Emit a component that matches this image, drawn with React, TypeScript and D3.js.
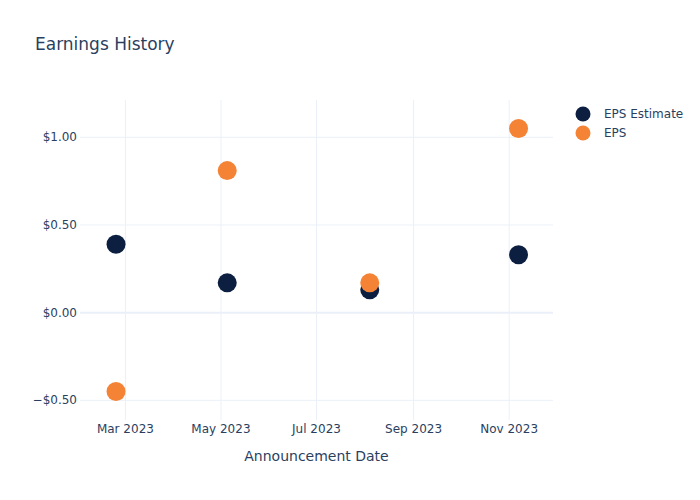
import React from "react";
import * as d3 from "d3";

const dates = ["2023-02-23", "2023-05-05", "2023-08-04", "2023-11-07"];
const epsEstimate = [0.39, 0.17, 0.13, 0.33];
const eps = [-0.45, 0.81, 0.17, 1.05];
const yTicks = [-0.5, 0, 0.5, 1.0];
const xTicks = ["2023-03-01", "2023-05-01", "2023-07-01", "2023-09-01", "2023-11-01"];
const seriesNames = ["EPS Estimate", "EPS"];
const colors = ["#0c1f40", "#f58335"];

const W = 700, H = 500;
const left = 80, right = 553, top = 100, bottom = 420;
const font = "'DejaVu Sans', sans-serif";
const textColor = "#2a3f5f";

export default function App() {
  const parse = d3.utcParse("%Y-%m-%d");
  const x = d3
    .scaleUtc()
    .domain([parse("2023-01-31")!, parse("2023-11-29")!])
    .range([left, right]);
  const y = d3.scaleLinear().domain([-0.612, 1.2127]).range([bottom, top]);
  const fmtX = d3.utcFormat("%b %Y");
  const fmtY = (v: number) => (v < 0 ? "\u2212" : "") + "$" + Math.abs(v).toFixed(2);
  const series = [epsEstimate, eps];

  return (
    <svg width={W} height={H} style={{ display: "block", position: "absolute", left: 0, top: 0, fontFamily: font }}>
      <rect width={W} height={H} fill="#fff" />
      <text x={35} y={50} fontSize={17} fill={textColor}>Earnings History</text>
      {xTicks.map((t) => {
        const xx = x(parse(t)!);
        return (
          <g key={t}>
            <line x1={xx} x2={xx} y1={top} y2={bottom} stroke="#ebf0f8" strokeWidth={1} />
            <text x={xx} y={433} fontSize={12} fill={textColor} textAnchor="middle">{fmtX(parse(t)!)}</text>
          </g>
        );
      })}
      {yTicks.map((t) => {
        const yy = y(t);
        return (
          <g key={t}>
            <line x1={left} x2={right} y1={yy} y2={yy} stroke="#ebf0f8" strokeWidth={t === 0 ? 2 : 1} />
            <text x={77} y={yy + 4} fontSize={12} fill={textColor} textAnchor="end">{fmtY(t)}</text>
          </g>
        );
      })}
      {series.map((s, si) =>
        s.map((v, i) => (
          <circle key={si + "-" + i} cx={x(parse(dates[i])!)} cy={y(v)} r={9.5} fill={colors[si]} />
        ))
      )}
      <text x={(left + right) / 2} y={461} fontSize={14} fill={textColor} textAnchor="middle">Announcement Date</text>
      {seriesNames.map((n, i) => (
        <g key={n}>
          <circle cx={583} cy={114 + i * 19} r={7.5} fill={colors[i]} />
          <text x={604} y={118 + i * 19} fontSize={12} fill={textColor}>{n}</text>
        </g>
      ))}
    </svg>
  );
}
